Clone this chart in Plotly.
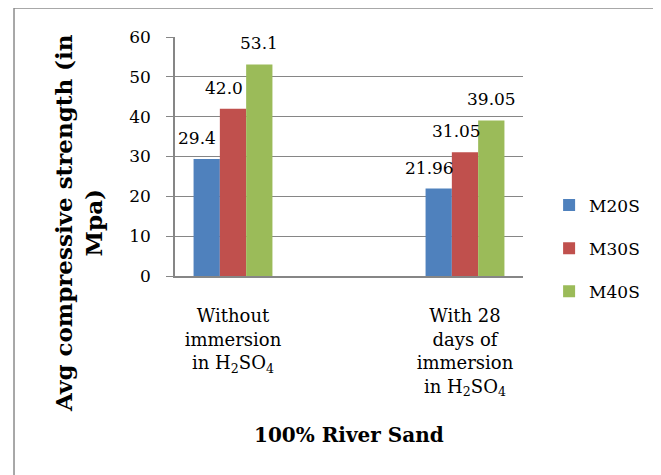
import plotly.graph_objects as go

categories = ["Without<br>immersion<br>in H<sub>2</sub>SO<sub>4</sub>",
              "With 28<br>days of<br>immersion<br>in H<sub>2</sub>SO<sub>4</sub>"]
series_names = ["M20S", "M30S", "M40S"]
m20s = [29.4, 21.96]
m30s = [42.0, 31.05]
m40s = [53.1, 39.05]
label_text = [["29.4", "21.96"], ["42.0", "31.05"], ["53.1", "39.05"]]
y_ticks = [0, 10, 20, 30, 40, 50, 60]

colors = ["#4F81BD", "#C0504D", "#9BBB59"]
values = [m20s, m30s, m40s]
FONT = "DejaVu Serif"

fig = go.Figure()
for i, (name, vals) in enumerate(zip(series_names, values)):
    fig.add_trace(go.Bar(
        x=categories, y=vals, name=name, marker=dict(color=colors[i], line=dict(width=0)),
        legendgroup=name,
    ))

xshifts = [-36, -9, 26]
for i, vals in enumerate(values):
    for c, v, t in zip(categories, vals, label_text[i]):
        fig.add_annotation(x=c, y=v, xref="x", yref="y", text=t, showarrow=False,
                           yanchor="bottom", yshift=9, xshift=xshifts[i],
                           font=dict(family=FONT, size=17, color="#000"))

fig.add_annotation(xref="paper", yref="paper", x=-0.276, y=0.222,
                   text="<b>Avg compressive strength (in<br>Mpa)</b>", textangle=-90,
                   showarrow=False, font=dict(family=FONT, size=23, color="#000"),
                   xanchor="center", yanchor="middle")
fig.add_annotation(xref="paper", yref="paper", x=0.5, y=-0.665,
                   text="<b>100% River Sand</b>", showarrow=False,
                   font=dict(family=FONT, size=20, color="#000"),
                   xanchor="center", yanchor="middle")

fig.add_shape(type="rect", xref="paper", yref="paper",
              x0=-0.4626, x1=1.388, y0=-1.2, y1=1.121,
              line=dict(color="#8C8C8C", width=1.5), fillcolor="rgba(0,0,0,0)", layer="below")

fig.update_layout(
    width=661, height=475,
    margin=dict(l=167, r=146, t=29, b=207),
    paper_bgcolor="white", plot_bgcolor="white",
    barmode="group", bargap=0.66, bargroupgap=0,
    font=dict(family=FONT, size=16, color="#000"),
    showlegend=True,
    legend=dict(x=1.075, y=0.37, xanchor="left", yanchor="top",
                font=dict(family=FONT, size=17, color="#000"),
                tracegroupgap=18, bgcolor="rgba(0,0,0,0)"),
    xaxis=dict(range=[-0.25, 1.25], showline=True, linecolor="#868686", linewidth=1.5,
               ticks="", showgrid=False, tickfont=dict(family=FONT, size=18, color="#000"),
               ticklabelstandoff=23),
    yaxis=dict(range=[0, 60], tickvals=y_ticks, showline=True, linecolor="#868686", linewidth=1.5,
               ticks="outside", ticklen=7, tickcolor="#868686", showgrid=True, gridcolor="#868686",
               gridwidth=1.2, zeroline=False, tickfont=dict(family=FONT, size=17, color="#000"),
               ticklabelstandoff=12),
)

fig.write_html("out.html")
